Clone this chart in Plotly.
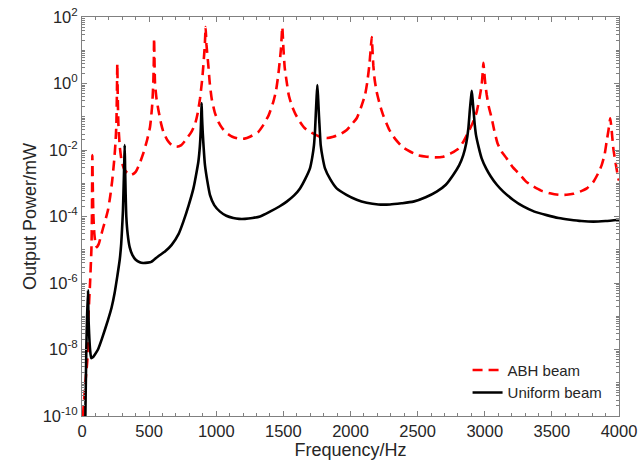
import plotly.graph_objects as go

# ABH beam (red dashed)
abh_freq = [7, 25, 40, 47, 60, 70, 74, 77, 80, 85, 92, 100, 110, 125, 140, 157, 175, 194, 210, 225, 240, 250, 256, 260, 263,
            266, 271, 282, 296, 315, 340, 370, 400, 430, 457, 485, 507, 522, 531, 535, 537,
            540, 544, 555, 569, 590, 606, 635, 668, 705, 740, 780, 815, 842, 862, 879, 895, 904, 915, 921,
            927, 941, 952, 966, 990, 1016, 1045, 1078, 1120, 1165, 1210, 1251, 1313, 1350, 1390, 1425, 1445, 1462, 1482, 1492,
            1500, 1510, 1525, 1540, 1562, 1590, 1624, 1660, 1698, 1773, 1830, 1872, 1925, 1972, 2010, 2046, 2080, 2108, 2125, 2140, 2150, 2158,
            2165, 2170, 2180, 2195, 2220, 2244, 2290, 2331, 2390, 2443, 2500, 2568, 2630, 2692, 2750, 2804, 2845, 2878, 2910, 2940, 2960, 2977, 2985, 2990,
            2997, 3005, 3015, 3030, 3052, 3070, 3095, 3125, 3163, 3210, 3263, 3310, 3362, 3420, 3486, 3550, 3610, 3660, 3710, 3760, 3809, 3845, 3871, 3892, 3908, 3922, 3935,
            3945, 3958, 3975, 3995, 4000]
abh_power = [1e-10, 1e-9, 5e-9, 8e-8, 1e-6, 1e-5, 1e-4, 7e-3, 1e-3, 1e-4, 3e-5, 1.6e-5, 1.2e-5, 1.5e-5, 2.5e-5, 4.5e-5, 8e-5, 1.6e-4, 4e-4, 1.2e-3, 5e-3, 1.8e-2, 6e-2, 0.5, 4.0,
             0.5, 6e-2, 1.2e-2, 4.5e-3, 2.6e-3, 2.0e-3, 1.8e-3, 2.2e-3, 4e-3, 8e-3, 2.0e-2, 5e-2, 0.2, 1.0, 5, 23,
             5, 1.0, 0.35, 0.16, 6e-2, 3.5e-2, 2e-2, 1.4e-2, 1.25e-2, 1.4e-2, 2.2e-2, 3.5e-2, 6e-2, 0.13, 0.35, 1.3, 3.5, 15, 50,
             15, 3.5, 1.0, 0.35, 0.13, 7e-2, 4.5e-2, 3.2e-2, 2.5e-2, 2.2e-2, 2.2e-2, 2.5e-2, 3.5e-2, 5.6e-2, 0.11, 0.28, 0.6, 1.8, 11, 50,
             12, 3, 1.1, 0.45, 0.22, 0.12, 7e-2, 4.5e-2, 3.5e-2, 2.5e-2, 2.3e-2, 2.5e-2, 3e-2, 4e-2, 6e-2, 9e-2, 0.2, 0.45, 1.1, 3.5, 10, 25,
             8, 3.5, 1.3, 0.56, 0.22, 0.11, 4e-2, 2.2e-2, 1.2e-2, 9e-3, 7e-3, 6.3e-3, 6e-3, 6.3e-3, 8e-3, 1.1e-2, 1.9e-2, 3.5e-2, 6.5e-2, 0.14, 0.35, 0.9, 2.2, 4.2,
             2, 0.9, 0.45, 0.2, 9e-2, 4e-2, 1.6e-2, 9e-3, 5.6e-3, 3e-3, 1.8e-3, 1.1e-3, 8e-4, 6e-4, 5e-4, 4.5e-4, 4.5e-4, 4.8e-4, 5.6e-4, 7e-4, 1.1e-3, 2e-3, 3.5e-3, 7e-3, 1.8e-2, 4e-2, 0.09,
             4e-2, 1.1e-2, 4e-3, 1.4e-3, 1.2e-3]

# Uniform beam (black solid)
uni_freq = [25, 32, 38, 45, 48, 53, 60, 69, 80, 95, 119, 150, 194, 220, 243, 262, 281, 292, 298, 305, 310, 314, 318,
            321, 325, 330, 340, 355, 375, 400, 430, 455, 490, 516, 566, 620, 668, 720, 755, 795, 830, 852, 867, 878, 884, 888, 891,
            894, 899, 906, 916, 933, 953, 985, 1028, 1075, 1127, 1170, 1214, 1270, 1326, 1400, 1470, 1525, 1580, 1624, 1665, 1698, 1715, 1728, 1736, 1741, 1747, 1753,
            1759, 1765, 1771, 1778, 1792, 1810, 1850, 1897, 1970, 2046, 2120, 2207, 2294, 2380, 2468, 2560, 2642, 2710, 2766, 2810, 2840, 2862, 2878, 2890, 2897, 2903,
            2909, 2915, 2925, 2935, 2955, 2977, 3010, 3045, 3090, 3138, 3210, 3287, 3370, 3461, 3550, 3635, 3720, 3809, 3900, 4000]
uni_power = [1e-10, 1e-8, 1e-7, 6e-7, 1e-7, 3e-8, 1e-8, 5.5e-9, 5.8e-9, 7e-9, 1e-8, 2.2e-8, 7.8e-8, 1.8e-7, 5e-7, 1.5e-6, 5e-6, 1.5e-5, 4e-5, 1.5e-4, 8e-4, 3e-3, 1.4e-2,
             3e-3, 5e-4, 1e-4, 3e-5, 1.2e-5, 7e-6, 5e-6, 4.2e-6, 4e-6, 4.1e-6, 4.3e-6, 6.3e-6, 9e-6, 1.4e-5, 3e-5, 7e-5, 2.2e-4, 7e-4, 2e-3, 4.5e-3, 1.3e-2, 3.5e-2, 0.1, 0.26,
             0.1, 3.5e-2, 1.2e-2, 3.5e-3, 1.2e-3, 4.5e-4, 2.2e-4, 1.4e-4, 1.05e-4, 9e-5, 8.5e-5, 8.5e-5, 9e-5, 1e-4, 1.4e-4, 2e-4, 2.8e-4, 4.3e-4, 7e-4, 1.4e-3, 2.8e-3, 6e-3, 1.4e-2, 4e-2, 0.11, 0.35, 0.9,
             0.35, 0.11, 4e-2, 1.4e-2, 6e-3, 2.8e-3, 1.3e-3, 7e-4, 4.5e-4, 3.2e-4, 2.6e-4, 2.3e-4, 2.3e-4, 2.5e-4, 2.8e-4, 3.8e-4, 5.6e-4, 9e-4, 1.8e-3, 3.5e-3, 7e-3, 1.6e-2, 4.5e-2, 0.18, 0.35, 0.6,
             0.35, 0.18, 6e-2, 2.8e-2, 1.2e-2, 5.6e-3, 2.8e-3, 1.6e-3, 9e-4, 5.6e-4, 3.2e-4, 2e-4, 1.4e-4, 1.1e-4, 9e-5, 8e-5, 7.3e-5, 7e-5, 7.3e-5, 8e-5]

y_tick_vals = [1e-10, 1e-8, 1e-6, 1e-4, 1e-2, 1e0, 1e2]
y_tick_text = ["10<sup>-10</sup>", "10<sup>-8</sup>", "10<sup>-6</sup>", "10<sup>-4</sup>",
               "10<sup>-2</sup>", "10<sup>0</sup>", "10<sup>2</sup>"]
x_tick_vals = [0, 500, 1000, 1500, 2000, 2500, 3000, 3500, 4000]

FONT = "Liberation Sans, Arial, sans-serif"
TXT = "#262626"
AX = "#808080"

fig = go.Figure()
fig.add_trace(go.Scatter(x=abh_freq, y=abh_power, mode="lines", name="ABH beam",
                         line=dict(color="#ff0000", width=2.6, dash="10px,6px", shape="spline", smoothing=0.5)))
fig.add_trace(go.Scatter(x=uni_freq, y=uni_power, mode="lines", name="Uniform beam",
                         line=dict(color="#000000", width=2.6, shape="spline", smoothing=0.5)))

fig.update_layout(
    width=638, height=468,
    margin=dict(l=82, r=19, t=17, b=52),
    paper_bgcolor="white", plot_bgcolor="white",
    font=dict(family=FONT, size=16, color=TXT),
    showlegend=True,
    legend=dict(x=0.718, y=0.018, xanchor="left", yanchor="bottom", bgcolor="rgba(255,255,255,0)",
                font=dict(family=FONT, size=15, color=TXT), tracegroupgap=0, itemwidth=30),
)
fig.update_xaxes(
    range=[0, 4000], tickvals=x_tick_vals, ticks="inside", ticklen=5, tickcolor=AX,
    tickfont=dict(size=16.5, color=TXT), automargin=False,
    showline=True, linecolor=AX, linewidth=1, mirror="ticks", showgrid=False, zeroline=False,
    minor=dict(ticks="inside", ticklen=3, dtick=100, tickcolor=AX, showgrid=False),
    title=dict(text="Frequency/Hz", font=dict(size=18, color=TXT), standoff=4),
)
fig.update_yaxes(
    type="log", range=[-10, 2], tickvals=y_tick_vals, ticktext=y_tick_text,
    ticks="inside", ticklen=5, tickcolor=AX, tickfont=dict(size=16.5, color=TXT), automargin=False,
    showline=True, linecolor=AX, linewidth=1, mirror="ticks", showgrid=False, zeroline=False,
    minor=dict(ticks="inside", ticklen=3, dtick="D1", tickcolor=AX, showgrid=False),
    title=dict(text="Output Power/mW", font=dict(size=18, color=TXT), standoff=1),
)

fig.write_html("out.html", config={"displayModeBar": False},
               post_script="document.body.style.margin='0';document.body.style.overflow='hidden';")
